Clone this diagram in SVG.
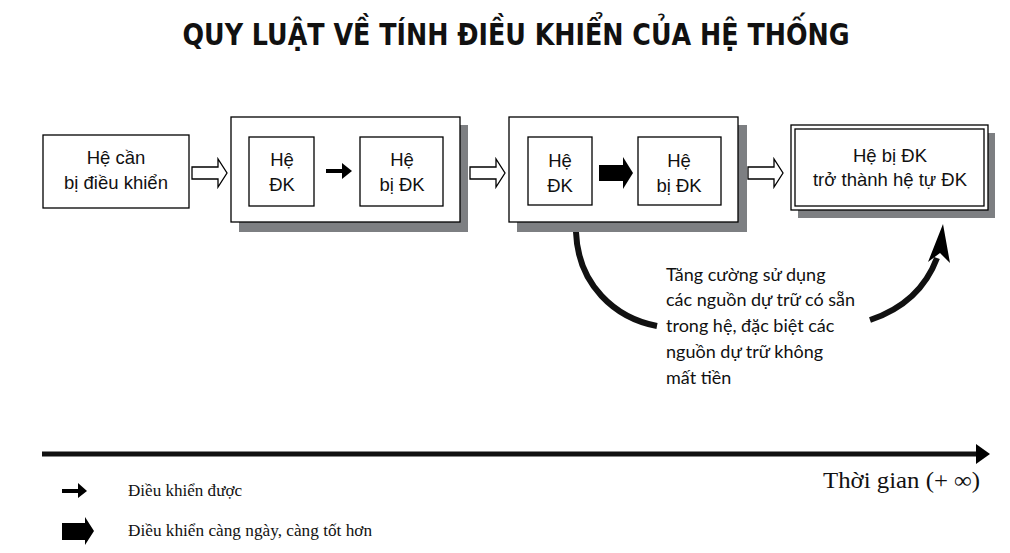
<svg xmlns="http://www.w3.org/2000/svg" width="1010" height="553" viewBox="0 0 1010 553">
<style>
.box{fill:#fff;stroke:#000;stroke-width:1.3}
.shadow{fill:#7d7f82}
.bt{font-family:"Liberation Sans",Arial,sans-serif;font-size:18.5px;fill:#111;text-anchor:middle}
.hollow{fill:#fff;stroke:#000;stroke-width:1.3;stroke-linejoin:miter}
.solid{fill:#000}
.note{font-family:Lato,"Noto Sans",sans-serif;font-size:18px;fill:#111}
.leg{font-family:"Liberation Serif","Times New Roman",serif;font-size:16px;fill:#111}
.curve{fill:none;stroke:#111;stroke-width:6}
</style>
<rect width="1010" height="553" fill="#fff"/>
<text x="516" y="45" text-anchor="middle" font-family="'DejaVu Sans',sans-serif" font-weight="bold" font-size="31" textLength="667" lengthAdjust="spacingAndGlyphs" fill="#111">QUY LUẬT VỀ TÍNH ĐIỀU KHIỂN CỦA HỆ THỐNG</text>

<g id="node1">
<rect class="box" x="43" y="135" width="146" height="73"/>
<text class="bt" x="116" y="164">Hệ cần</text>
<text class="bt" x="116" y="189">bị điều khiển</text>
</g>

<g id="node2">
<rect class="shadow" x="239" y="125" width="229" height="107"/>
<rect class="box" x="231" y="117" width="229" height="105"/>
<rect class="box" x="249" y="137" width="65" height="69"/>
<text class="bt" x="282" y="166">Hệ</text>
<text class="bt" x="282" y="191">ĐK</text>
<rect class="box" x="360" y="137" width="83" height="69"/>
<text class="bt" x="402" y="166">Hệ</text>
<text class="bt" x="402" y="191">bị ĐK</text>
</g>

<g id="node3">
<rect class="shadow" x="517" y="125" width="230" height="107"/>
<rect class="box" x="509" y="117" width="229" height="105"/>
<rect class="box" x="528" y="137" width="64" height="68"/>
<text class="bt" x="560" y="167">Hệ</text>
<text class="bt" x="560" y="192">ĐK</text>
<rect class="box" x="638" y="137" width="83" height="68"/>
<text class="bt" x="679" y="167">Hệ</text>
<text class="bt" x="679" y="192">bị ĐK</text>
</g>

<g id="node4">
<rect class="shadow" x="798" y="133" width="197" height="85"/>
<rect class="box" x="791" y="125" width="197" height="85"/>
<rect class="box" x="795" y="129" width="189" height="77"/>
<text class="bt" x="890" y="162">Hệ bị ĐK</text>
<text class="bt" x="890" y="186">trở thành hệ tự ĐK</text>
</g>

<g id="note">
<text class="note" x="666" y="281">Tăng cường sử dụng</text>
<text class="note" x="666" y="306">các nguồn dự trữ có sẵn</text>
<text class="note" x="666" y="332">trong hệ, đặc biệt các</text>
<text class="note" x="666" y="358">nguồn dự trữ không</text>
<text class="note" x="666" y="384">mất tiền</text>
</g>

<g id="connectors">
<path class="hollow" d="M192,167 H218 V159 L227,173 L218,187 V179 H192 Z"/>
<path class="hollow" d="M470,167 H496 V159 L505,173 L496,187 V179 H470 Z"/>
<path class="hollow" d="M748,167 H774 V159 L783,173 L774,187 V179 H748 Z"/>
<path class="solid" d="M326,169 H342 V163 L352,171 L342,179 V173 H326 Z"/>
<path class="solid" d="M599,165 H623 V157 L633,173 L623,189 V181 H599 Z"/>
<path class="curve" d="M576,232 C578,285 615,318 657,326"/>
<path class="curve" d="M870,320 C900,310 925,290 937,258"/>
<path class="solid" d="M943,224 L950,263 L940,253 L928,262 Z"/>
<path d="M42,454 H978" stroke="#111" stroke-width="5" fill="none"/>
<path class="solid" d="M976,444 L990,454 L976,464 Z"/>
</g>

<text x="823" y="488" font-family="'Liberation Serif',serif" font-size="23" textLength="157" lengthAdjust="spacingAndGlyphs" fill="#111">Thời gian (+ ∞)</text>

<g id="legend">
<path class="solid" d="M62,489 H78 V483 L87,491 L78,498 V493 H62 Z"/>
<text class="leg" x="128" y="496" textLength="114" lengthAdjust="spacingAndGlyphs">Điều khiển được</text>
<path class="solid" d="M62,523 H85 V517 L94,531 L85,545 V540 H62 Z"/>
<text class="leg" x="128" y="536" textLength="244" lengthAdjust="spacingAndGlyphs">Điều khiển càng ngày, càng tốt hơn</text>
</g>
</svg>
